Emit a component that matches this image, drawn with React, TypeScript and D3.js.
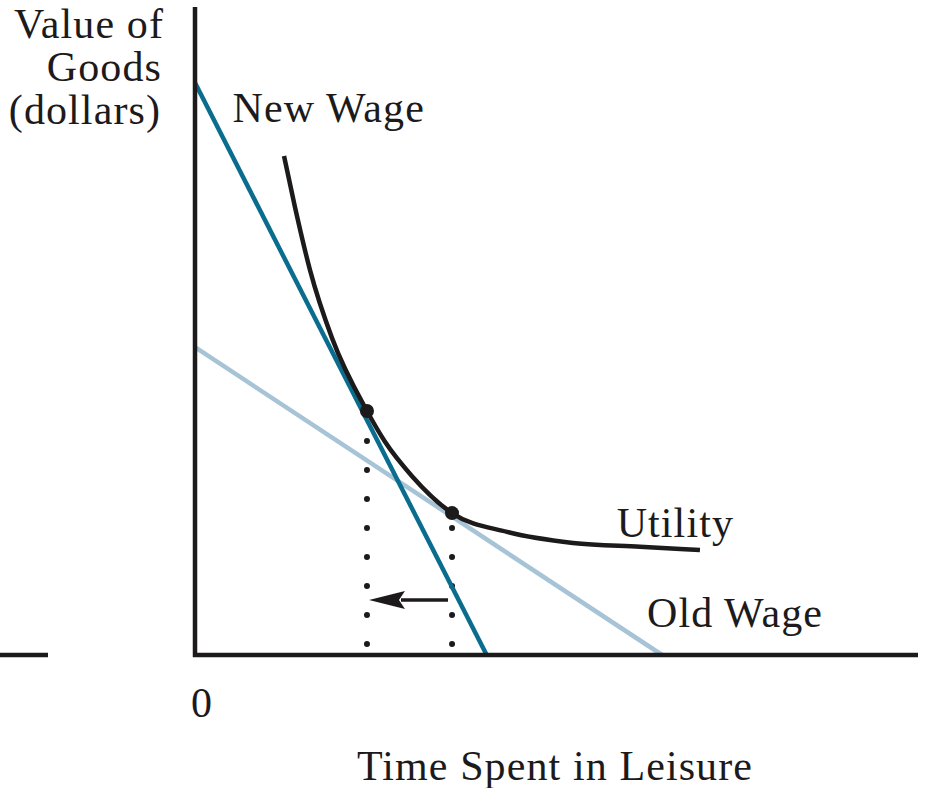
import React from "react";
import * as d3 from "d3";

// Leisure (x) vs value of goods (y), arbitrary units 0..100
const newWage = [
  { x: 0, y: 88.3 },
  { x: 40.4, y: 0 },
];
const oldWage = [
  { x: 0, y: 47.5 },
  { x: 64.7, y: 0 },
];
const utility = [
  { x: 12.33, y: 77.0 },
  { x: 13.85, y: 69.1 },
  { x: 15.93, y: 59.4 },
  { x: 18.98, y: 48.9 },
  { x: 23.82, y: 37.65 },
  { x: 26.32, y: 32.9 },
  { x: 30.06, y: 27.6 },
  { x: 35.6, y: 21.9 },
  { x: 43.21, y: 19.0 },
  { x: 52.35, y: 17.3 },
  { x: 61.63, y: 16.7 },
  { x: 69.94, y: 16.2 },
];
const optima = [
  { x: 23.82, y: 37.65 },
  { x: 35.6, y: 21.9 },
];
const yLabelLines = ["Value of", "Goods", "(dollars)"];
const xLabel = "Time Spent in Leisure";
const originLabel = "0";
const curveLabels = [
  { text: "New Wage", x: 5.2, y: 82.3 },
  { text: "Utility", x: 58.4, y: 18.2 },
  { text: "Old Wage", x: 62.6, y: 4.3 },
];

const W = 928;
const H = 788;
const FONT = "'Liberation Serif', 'Times New Roman', serif";
const INK = "#1c1a1a";
const NEW_COLOR = "#0b6d8e";
const OLD_COLOR = "#a7c3d6";
const FS = 42;
const LS = 1.1;

export default function App() {
  const x = d3.scaleLinear().domain([0, 100]).range([195, 917]);
  const y = d3.scaleLinear().domain([0, 100]).range([655, 7]);

  const line = d3
    .line<{ x: number; y: number }>()
    .x((d) => x(d.x))
    .y((d) => y(d.y));
  const curve = d3
    .line<{ x: number; y: number }>()
    .x((d) => x(d.x))
    .y((d) => y(d.y))
    .curve(d3.curveMonotoneX);

  const arrowY = y(8.5);
  const arrowStart = x(optima[1].x) - 4;
  const arrowEnd = x(optima[0].x) + 2;
  const headLen = 36;
  const headHalf = 9;

  const textStyle = { letterSpacing: `${LS}px` };

  return (
    <svg
      width={W}
      height={H}
      style={{ position: "absolute", left: 0, top: 0, background: "#fff" }}
      fontFamily={FONT}
    >
      <rect width={W} height={H} fill="#fff" />
      {/* stray axis fragment at far left */}
      <line x1={0} x2={48} y1={y(0)} y2={y(0)} stroke={INK} strokeWidth={4.5} />

      {/* dotted drop lines */}
      {optima.map((p, i) => (
        <line
          key={"d" + i}
          x1={x(p.x)}
          x2={x(p.x)}
          y1={y(0) - 11}
          y2={y(p.y) + 14}
          stroke={INK}
          strokeWidth={6}
          strokeLinecap="round"
          strokeDasharray="0 29"
        />
      ))}

      {/* budget lines */}
      <path d={line(oldWage) ?? ""} fill="none" stroke={OLD_COLOR} strokeWidth={4.5} />
      <path d={line(newWage) ?? ""} fill="none" stroke={NEW_COLOR} strokeWidth={4.5} />

      {/* utility curve */}
      <path d={curve(utility) ?? ""} fill="none" stroke={INK} strokeWidth={4.5} />

      {/* optimum points */}
      {optima.map((p, i) => (
        <circle key={"c" + i} cx={x(p.x)} cy={y(p.y)} r={7} fill={INK} />
      ))}

      {/* arrow */}
      <line
        x1={arrowStart}
        x2={arrowEnd + headLen - 4}
        y1={arrowY}
        y2={arrowY}
        stroke={INK}
        strokeWidth={3.5}
      />
      <path
        d={`M${arrowEnd},${arrowY} L${arrowEnd + headLen},${arrowY - headHalf} L${arrowEnd + headLen - 6},${arrowY} L${arrowEnd + headLen},${arrowY + headHalf} Z`}
        fill={INK}
      />

      {/* axes */}
      <line x1={x(0)} x2={x(0)} y1={y(100)} y2={y(0) + 2} stroke={INK} strokeWidth={4.5} />
      <line x1={x(0) - 2} x2={918} y1={y(0)} y2={y(0)} stroke={INK} strokeWidth={4.5} />

      {/* y axis label */}
      {yLabelLines.map((t, i) => (
        <text
          key={"yl" + i}
          x={[164, 162, 161][i]}
          y={38 + i * 43}
          textAnchor="end"
          fontSize={FS}
          fill={INK}
          style={textStyle}
        >
          {t}
        </text>
      ))}

      {/* curve labels */}
      {curveLabels.map((l, i) => (
        <text key={"cl" + i} x={x(l.x)} y={y(l.y)} fontSize={FS} fill={INK} style={textStyle}>
          {l.text}
        </text>
      ))}

      <text x={x(0) - 4} y={717} fontSize={FS} fill={INK}>
        {originLabel}
      </text>
      <text x={357} y={780} fontSize={FS} fill={INK} style={textStyle}>
        {xLabel}
      </text>
    </svg>
  );
}
